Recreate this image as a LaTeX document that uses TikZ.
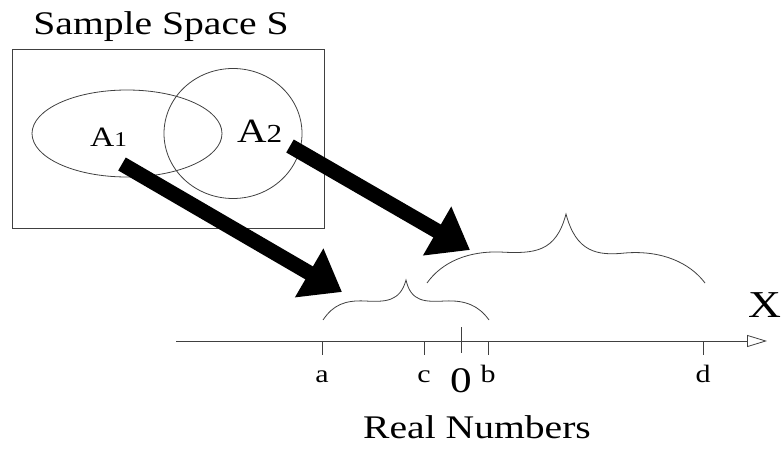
\documentclass[tikz,border=0pt]{standalone}
\usepackage{fontspec}
\setmainfont[FakeStretch=1.2]{Liberation Serif}
\usetikzlibrary{arrows.meta,positioning,shapes.geometric}
\newcommand{\fsz}[1]{\fontsize{#1}{#1}\selectfont}

\begin{document}
\begin{tikzpicture}[x=1pt, y=-1pt,
  ln/.style={draw=black!75, line width=0.8pt},
  big/.style={font=\fsz{33}, inner sep=0pt, anchor=base},
  tk/.style={font=\fsz{25}, inner sep=0pt, anchor=base},
  fat/.style={line width=15pt, -{Triangle[length=38pt,width=54pt]}},
  evt/.style={ln, ellipse, inner sep=0pt},
]
\useasboundingbox (0,0) rectangle (783,454);
% ---------------- sample space ----------------
\node[big] (title) at (161,35) {Sample Space S};
\node[ln, rectangle, anchor=north west, minimum width=312pt, minimum height=179pt] (space) at (12,49) {};
\node[evt, minimum width=190pt, minimum height=87pt] (evA1) at (127,133.5) {};
\node[evt, minimum width=138pt, minimum height=130pt] (evA2) at (233,133.5) {};
\node[font=\fsz{28}, inner sep=0pt, anchor=base west] (labA1) at (90,147) {A\fsz{21}1};
\node[font=\fsz{34}, inner sep=0pt, anchor=base west] (labA2) at (237,143) {A\fsz{26}2};

% ---------------- mapping arrows ----------------
\coordinate (a1tail) at (122,164);
\coordinate (a1head) at (342,292);
\coordinate (a2tail) at (290,146);
\coordinate (a2head) at (470,250);
\draw[fat] (a1tail) -- (a1head);
\draw[fat] (a2tail) -- (a2head);

% ---------------- images on the line ----------------
\draw[ln] (323,320) .. controls (333,305) and (345,300) .. (365,301)
  .. controls (385,302) and (400,302) .. (406,280)
  .. controls (411,302) and (425,302) .. (445,301)
  .. controls (466,300) and (479,306) .. (489,320);
\draw[ln] (427,283) .. controls (442,262) and (468,251) .. (500,252)
  .. controls (535,254) and (556,252) .. (566,214)
  .. controls (576,252) and (597,256) .. (625,253)
  .. controls (662,250) and (690,263) .. (705,283);

% ---------------- real axis ----------------
\coordinate (xstart) at (176,341);
\coordinate (xend) at (767,341);
\draw[ln, -{Triangle[open, length=20pt, width=12pt]}] (xstart) -- (xend);
\node[font=\fsz{38}, inner sep=0pt, anchor=base east] (xlab) at (782,317) {X};
\foreach \x/\lab in {322/a, 424/c, 488/b, 703/d} {
  \draw[ln] (\x,341) -- (\x,355);
  \node[tk] (tk-\lab) at (\x,382) {\lab};
}
\draw[ln] (461,327) -- (461,353);
\node[font=\fsz{36}, inner sep=0pt, anchor=base] (zero) at (461,392) {0};
\node[big] (realnum) at (477,438) {Real Numbers};
\end{tikzpicture}
\end{document}
